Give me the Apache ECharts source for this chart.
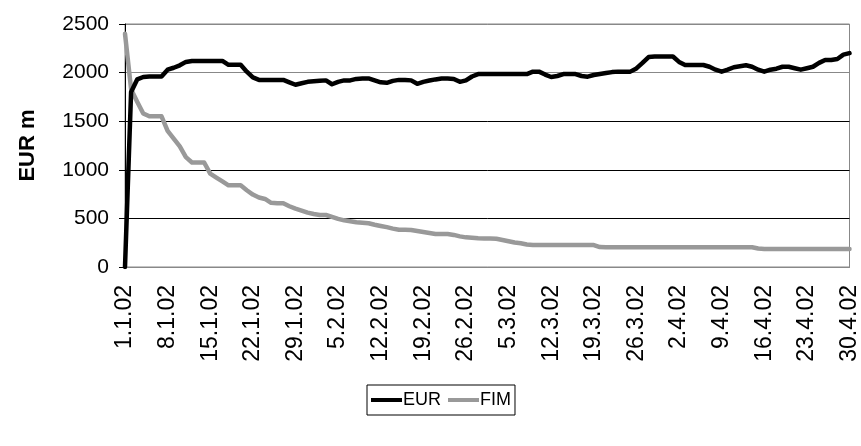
<!DOCTYPE html>
<html>
<head>
<meta charset="utf-8">
<script src="https://cdn.jsdelivr.net/npm/echarts@6/dist/echarts.min.js"></script>
<style>
  html, body { margin: 0; padding: 0; background: #fff; }
  #chart { width: 861px; height: 446px; }
</style>
</head>
<body>
<div id="chart"></div>
<script>
// daily dates 1.1.02 - 30.4.02
const monthDays = [31, 28, 31, 30];
const dates = [];
monthDays.forEach((n, m) => {
  for (let d = 1; d <= n; d++) {
    dates.push(d + '.' + (m + 1) + '.02');
  }
});

const yTicks = [0, 500, 1000, 1500, 2000, 2500];

const eur = [
  0, 1800, 1930, 1955, 1960, 1960, 1960, 2030, 2050, 2075,
  2110, 2120, 2120, 2120, 2120, 2120, 2120, 2080, 2080, 2080,
  2010, 1950, 1925, 1925, 1925, 1925, 1925, 1900, 1875, 1890,
  1905, 1910, 1915, 1920, 1880, 1905, 1920, 1920, 1935, 1940,
  1940, 1920, 1900, 1895, 1915, 1925, 1925, 1920, 1885, 1905,
  1918, 1930, 1940, 1940, 1935, 1905, 1920, 1960, 1985, 1985,
  1985, 1985, 1985, 1985, 1985, 1985, 1985, 2010, 2010, 1980,
  1955, 1965, 1985, 1985, 1985, 1965, 1958, 1975, 1986, 1995,
  2005, 2010, 2010, 2010, 2043, 2100, 2160, 2165, 2165, 2165,
  2165, 2110, 2078, 2078, 2078, 2078, 2060, 2030, 2010, 2030,
  2055, 2065, 2075, 2060, 2030, 2010, 2030, 2040, 2060, 2060,
  2045, 2030, 2045, 2060, 2100, 2130, 2130, 2140, 2185, 2200
];

const fim = [
  2400, 1830, 1700, 1580, 1550, 1550, 1550, 1400, 1320, 1240,
  1130, 1075, 1075, 1075, 960, 920, 880, 840, 840, 840,
  790, 745, 715, 700, 660, 655, 655, 625, 600, 580,
  560, 545, 535, 535, 515, 495, 480, 470, 460, 455,
  450, 435, 422, 410, 395, 383, 382, 381, 370, 360,
  350, 340, 340, 340, 330, 315, 305, 300, 295, 293,
  292, 290, 278, 265, 252, 244, 232, 226, 226, 226,
  226, 226, 226, 226, 226, 226, 226, 226, 205, 203,
  203, 203, 203, 203, 203, 203, 203, 203, 203, 203,
  203, 203, 203, 203, 203, 203, 203, 203, 203, 203,
  203, 203, 203, 203, 190, 185, 185, 185, 185, 185,
  185, 185, 185, 185, 185, 185, 185, 185, 185, 185
];

const font = '"Liberation Sans", Arial, sans-serif';

const chart = echarts.init(document.getElementById('chart'));
chart.setOption({
  animation: false,
  backgroundColor: '#fff',
  grid: {
    left: 125,
    right: 6,
    top: 24,
    bottom: 179,
    show: true,
    borderColor: '#888',
    borderWidth: 1,
  },
  legend: {
    data: ['EUR', 'FIM'],
    left: 367,
    top: 385,
    orient: 'horizontal',
    icon: 'rect',
    itemWidth: 31,
    itemHeight: 4,
    itemGap: 7,
    padding: [6, 4, 6, 4],
    borderColor: '#000',
    borderWidth: 1,
    borderRadius: 0,
    textStyle: { fontFamily: font, fontSize: 18, color: '#000', padding: [0, 0, 0, -4] },
  },
  xAxis: {
    type: 'category',
    data: dates,
    boundaryGap: false,
    axisLine: { lineStyle: { color: '#888', width: 1 } },
    axisTick: { show: false },
    axisLabel: {
      interval: 6,
      rotate: 90,
      margin: 18,
      fontFamily: font,
      fontSize: 23,
      color: '#000',
    },
    splitLine: { show: false },
  },
  yAxis: {
    type: 'value',
    min: yTicks[0],
    max: yTicks[yTicks.length - 1],
    interval: 500,
    name: 'EUR m',
    nameLocation: 'middle',
    nameGap: 86,
    nameTextStyle: { fontFamily: font, fontSize: 22, fontWeight: 'bold', color: '#000' },
    axisLine: { show: true, lineStyle: { color: '#000', width: 1 } },
    axisTick: { show: true, length: 6, lineStyle: { color: '#000' } },
    axisLabel: {
      margin: 16,
      fontFamily: font,
      fontSize: 21,
      color: '#000',
      formatter: (v) => String(v),
    },
    splitLine: {
      show: true,
      lineStyle: { color: ['#888', '#000', '#000', '#000', '#888', '#888'], width: 1 },
    },
  },
  series: [
    {
      name: 'EUR',
      type: 'line',
      data: eur,
      showSymbol: false,
      color: '#000',
      lineStyle: { width: 4.5, color: '#000', cap: 'round', join: 'round' },
      z: 3,
    },
    {
      name: 'FIM',
      type: 'line',
      data: fim,
      showSymbol: false,
      color: '#999',
      lineStyle: { width: 4.5, color: '#999', cap: 'round', join: 'round' },
      z: 2,
    },
  ],
});
</script>
</body>
</html>
